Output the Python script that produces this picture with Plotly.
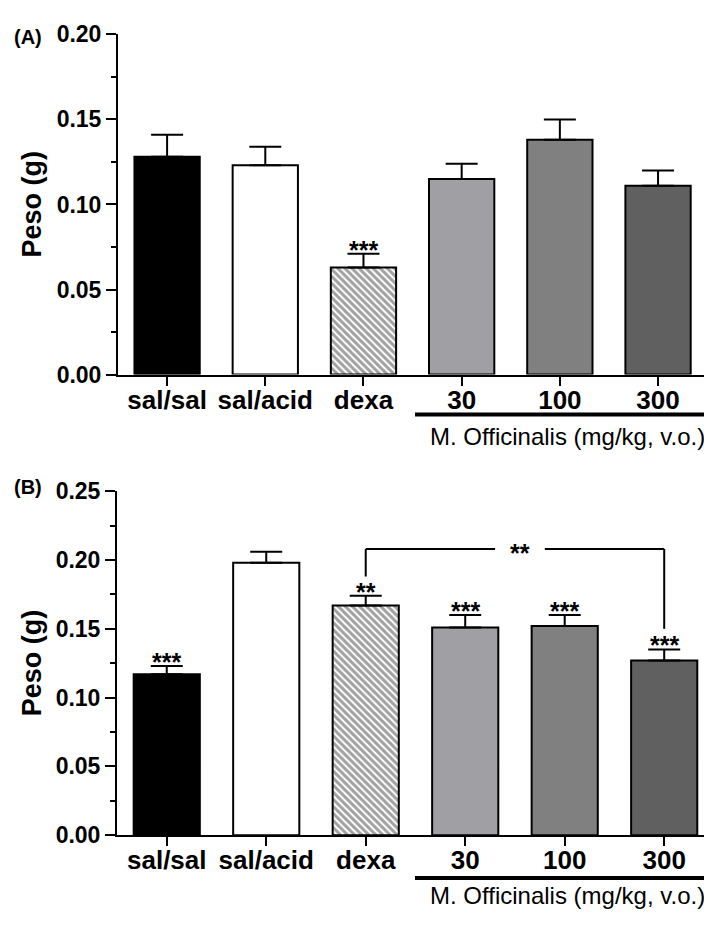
import plotly.graph_objects as go

# Groups and measured organ weights (mean and SEM, grams)
groups = ["sal/sal", "sal/acid", "dexa", "30", "100", "300"]
peso_a = [0.128, 0.123, 0.063, 0.115, 0.138, 0.111]
sem_a = [0.013, 0.011, 0.008, 0.009, 0.012, 0.009]
peso_b = [0.117, 0.198, 0.167, 0.151, 0.152, 0.127]
sem_b = [0.006, 0.008, 0.007, 0.009, 0.008, 0.008]
sig_a = ["", "", "***", "", "", ""]
sig_b = ["***", "", "**", "***", "***", "***"]

fill_colors = ["#000000", "#ffffff", "#ffffff", "#a0a0a4", "#808080", "#606060"]
patterns = ["", "", "\\", "", "", ""]

FONT = "Arial, Liberation Sans, sans-serif"
W, H = 704, 926
pos = list(range(len(groups)))


def px_x(p):
    return p / W


def px_y(p):
    return 1 - p / H


fig = go.Figure()

for (vals, errs, xa, ya) in [(peso_a, sem_a, "x", "y"), (peso_b, sem_b, "x2", "y2")]:
    fig.add_trace(go.Bar(
        x=pos, y=vals, xaxis=xa, yaxis=ya, width=0.665,
        marker=dict(color=fill_colors, line=dict(color="black", width=2),
                    pattern=dict(shape=patterns, fgcolor="black", bgcolor="white",
                                 size=5, solidity=0.6)),
        error_y=dict(type="data", array=errs, arrayminus=[0] * len(errs),
                     symmetric=False, color="black", thickness=2, width=16),
        showlegend=False,
    ))

axis_common = dict(showline=True, linecolor="black", linewidth=2, ticks="outside",
                   tickcolor="black", tickwidth=2, showgrid=False, zeroline=False)
ytick_font = dict(family=FONT, size=23, color="black", weight="bold")
xtick_font = dict(family=FONT, size=26, color="black", weight="bold")

fig.update_layout(
    width=W, height=H, margin=dict(l=0, r=0, t=0, b=0),
    plot_bgcolor="white", paper_bgcolor="white",
    xaxis=dict(domain=[px_x(118), 1], range=[-0.5, 5.468], ticklen=9, anchor="y",
               tickmode="array", tickvals=pos, ticktext=groups, tickfont=xtick_font,
               ticklabelstandoff=-8, **axis_common),
    yaxis=dict(domain=[px_y(372), px_y(22)], range=[0, 0.20], dtick=0.05, tickformat=".2f",
               ticklen=10, anchor="x", tickfont=ytick_font,
               minor=dict(dtick=0.025, ticks="outside", ticklen=5, tickwidth=2, tickcolor="black"),
               **axis_common),
    xaxis2=dict(domain=[px_x(117), 1], range=[-0.5, 5.40], ticklen=9, anchor="y2",
                tickmode="array", tickvals=pos, ticktext=groups, tickfont=xtick_font,
                ticklabelstandoff=-8, **axis_common),
    yaxis2=dict(domain=[px_y(846), px_y(492)], range=[0, 0.25], dtick=0.05, tickformat=".2f",
                ticklen=10, anchor="x2", tickfont=ytick_font,
                minor=dict(dtick=0.025, ticks="outside", ticklen=5, tickwidth=2, tickcolor="black"),
                **axis_common),
)

ann = []
# significance marks above the error bars
for (vals, errs, sig, xr, yr) in [(peso_a, sem_a, sig_a, "x", "y"), (peso_b, sem_b, sig_b, "x2", "y2")]:
    for i, v, e, s in zip(pos, vals, errs, sig):
        if s:
            ann.append(dict(x=i, y=v + e, xref=xr, yref=yr, text=s, showarrow=False,
                            yanchor="bottom", yshift=-12,
                            font=dict(family=FONT, size=25, color="black", weight="bold")))

# panel letters and y titles
for label, yc in [("(A)", 25), ("(B)", 488)]:
    ann.append(dict(x=px_x(28), y=px_y(yc), xref="paper", yref="paper", text=label,
                    showarrow=False, xanchor="center", yanchor="middle",
                    font=dict(family=FONT, size=20, color="black", weight="bold")))
for yc in [197, 669]:
    ann.append(dict(x=px_x(32), y=px_y(yc), xref="paper", yref="paper", text="Peso (g)",
                    textangle=-90, showarrow=False, xanchor="center", yanchor="middle",
                    font=dict(family=FONT, size=27, color="black", weight="bold")))

# dose group label under the M. officinalis bars
shapes = []
for ly, ty in [(413, 436), (890, 908)]:
    shapes.append(dict(type="line", xref="paper", yref="paper", x0=px_x(415), x1=1.0,
                       y0=px_y(ly), y1=px_y(ly), line=dict(color="black", width=4)))
    ann.append(dict(x=px_x(428), y=px_y(ty), xref="paper", yref="paper",
                    text="M. Officinalis (mg/kg, v.o.)", showarrow=False,
                    xanchor="left", yanchor="middle",
                    font=dict(family=FONT, size=24, color="black")))

# comparison bracket dexa vs 300 in panel B
br_y = 0.208
for x0, y0, x1, y1 in [(2, 0.188, 2, br_y), (2, br_y, 3.30, br_y),
                       (3.80, br_y, 5.0, br_y), (5.0, br_y, 5.0, 0.150)]:
    shapes.append(dict(type="line", xref="x2", yref="y2", x0=x0, x1=x1, y0=y0, y1=y1,
                       line=dict(color="black", width=2)))
ann.append(dict(x=3.55, y=br_y, xref="x2", yref="y2", text="**", showarrow=False,
                yanchor="middle", yshift=-4,
                font=dict(family=FONT, size=25, color="black", weight="bold")))

fig.update_layout(annotations=ann, shapes=shapes)
fig.write_html("out.html")
